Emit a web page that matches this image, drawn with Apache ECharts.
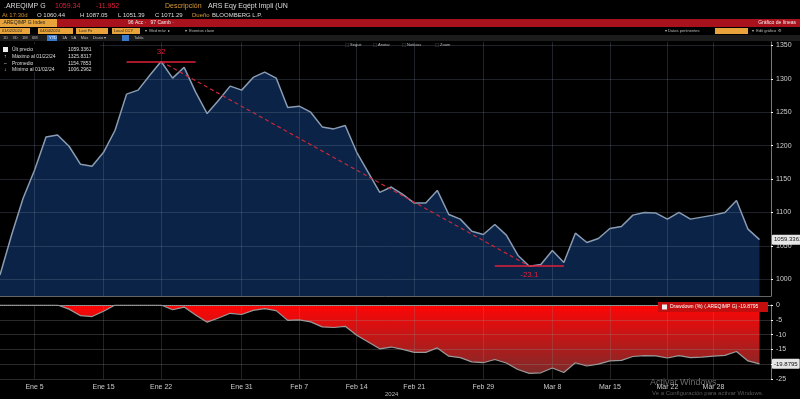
<!DOCTYPE html>
<html>
<head>
<meta charset="utf-8">
<script src="https://cdn.jsdelivr.net/npm/echarts@6/dist/echarts.min.js"></script>
<style>
  html, body { margin: 0; padding: 0; background: #000; }
  #chart { width: 800px; height: 399px; }
</style>
</head>
<body>
<div id="chart"></div>
<script>
// sesiones (dias habiles), la ultima queda vacia como margen a la derecha
var fechas = ['Ene 2','Ene 3','Ene 4','Ene 5','Ene 8','Ene 9','Ene 10','Ene 11','Ene 12',
  'Ene 15','Ene 16','Ene 17','Ene 18','Ene 19','Ene 22','Ene 23','Ene 24','Ene 25','Ene 26',
  'Ene 29','Ene 30','Ene 31','Feb 1','Feb 2','Feb 5','Feb 6','Feb 7','Feb 8','Feb 9',
  'Feb 12','Feb 13','Feb 14','Feb 15','Feb 16','Feb 19','Feb 20','Feb 21','Feb 22','Feb 23',
  'Feb 26','Feb 27','Feb 28','Feb 29','Mar 1','Mar 4','Mar 5','Mar 6','Mar 7','Mar 8',
  'Mar 11','Mar 12','Mar 13','Mar 14','Mar 15','Mar 18','Mar 19','Mar 20','Mar 21','Mar 22',
  'Mar 25','Mar 26','Mar 27','Mar 28','Mar 29','Abr 1','Abr 2','Abr 3','Abr 4'];
var etiquetasX = ['Ene 5','Ene 15','Ene 22','Ene 31','Feb 7','Feb 14','Feb 21','Feb 29','Mar 8','Mar 15','Mar 22','Mar 28'];

// precio .AREQIMP G
var precio = [1006.30, 1066, 1121, 1163, 1213, 1216, 1199, 1172, 1169, 1190, 1223, 1277, 1283, 1305,
  1325.83, 1301, 1317, 1280, 1248, 1268, 1289, 1283, 1302, 1310, 1301, 1257, 1259, 1250, 1228, 1225,
  1230, 1190, 1160, 1130, 1138, 1127, 1114, 1114, 1133, 1097, 1090, 1072, 1067, 1082, 1066, 1036,
  1019.6, 1022, 1043, 1025, 1069, 1055, 1061, 1076, 1079, 1096, 1100, 1099, 1090, 1100, 1090, 1093,
  1096, 1100, 1118, 1075, 1059.34];

// drawdown (%)
var drawdown = [0, 0, 0, 0, 0, 0, -1.4, -3.6, -3.9, -2.1, 0, 0, 0, 0, 0, -1.6, -0.7, -3.4, -5.8, -4.4,
  -2.8, -3.2, -1.8, -1.2, -1.9, -5.2, -5.0, -5.7, -7.4, -7.6, -7.2, -10.2, -12.5, -14.8, -14.2, -15.0,
  -16.0, -16.0, -14.5, -17.3, -17.8, -19.2, -19.5, -18.4, -19.6, -21.8, -23.1, -22.9, -21.3, -22.8,
  -19.5, -20.6, -20.0, -18.9, -18.7, -17.4, -17.1, -17.2, -17.9, -17.1, -17.8, -17.6, -17.3, -17.0,
  -15.7, -18.9, -19.88];

var ticksPrecio = [1000, 1050, 1100, 1150, 1200, 1250, 1300, 1350];
var ultimo = 1059.3361;
var ultimoDD = -19.8795;
var maximo = 1325.83, idxMax = 14;
var minimo = 1019.6, idxMin = 46;
var variacionSubida = '32', variacionBajada = '-23.1';

var myChart = echarts.init(document.getElementById('chart'));
var fuente = 'Liberation Sans, Arial, sans-serif';
var rojo = '#e0203a';
var naranja = '#e8a33a';
var invisible = 'rgba(0,0,0,0)';

function esEtiqueta(idx, val) {
  return etiquetasX.indexOf(fechas[idx]) >= 0;
}

var gridLineas = ticksPrecio.map(function (v) {
  return { yAxis: v, lineStyle: { color: 'rgba(125,140,165,0.25)', width: 1, type: 'solid' }, label: { show: false } };
});

function txt(x, y, s, color, size, extra) {
  var o = { type: 'text', x: x, y: y, z: 100, silent: true,
    style: { text: s, fill: color, font: (size || 6) + 'px ' + fuente, verticalAlign: 'middle' } };
  if (extra) { for (var k in extra) o.style[k] = extra[k]; }
  return o;
}
function caja(x, y, w, h, color) {
  return { type: 'rect', z: 99, silent: true, shape: { x: x, y: y, width: w, height: h }, style: { fill: color } };
}

var graficos = [
  // fila 1
  txt(4, 6, '.AREQIMP G', '#ddd', 7),
  txt(55, 6, '1059.34', rojo, 7),
  txt(96, 6, '-11.952', rojo, 7),
  txt(165, 6, 'Descripción', '#d89a3a', 7),
  txt(208, 6, 'ARS Eqy Eqépt Impli (UN', '#ddd', 7),
  // fila 2
  txt(2, 15, 'At 17:30d', '#c88a30', 6),
  txt(37, 15, 'O 1060.44', '#ddd', 6),
  txt(80, 15, 'H 1087.05', '#ddd', 6),
  txt(118, 15, 'L 1051.39', '#ddd', 6),
  txt(155, 15, 'C 1071.29', '#ddd', 6),
  txt(192, 15, 'Dueño', '#d89a3a', 6),
  txt(212, 15, 'BLOOMBERG L.P.', '#ddd', 6),
  // banda roja
  caja(0, 19, 800, 8, '#a8121d'),
  caja(0, 19, 57, 8, naranja),
  txt(2, 23, '.AREQIMP G Index', '#222', 5),
  txt(128, 23, '96 Acc ·   97 Camb ·', '#eee', 5),
  txt(796, 23, 'Gráfico de líneas', '#eee', 5, { align: 'right' }),
  // fila 4
  caja(0, 28, 30, 6, naranja), txt(2, 31, '01/02/2024', '#222', 4),
  caja(38, 28, 35, 6, naranja), txt(40, 31, '04/04/2024', '#222', 4),
  caja(76, 28, 32, 6, naranja), txt(79, 31, 'Last Px', '#222', 4),
  caja(112, 28, 28, 6, naranja), txt(114, 31, 'Local CCY', '#222', 4),
  txt(145, 31, '▾  Med móv  ▸', '#bbb', 4),
  txt(185, 31, '▾  Eventos clave', '#bbb', 4),
  txt(665, 31, '▾ Datos pertinentes', '#bbb', 4),
  caja(715, 28, 33, 6, naranja),
  txt(752, 31, '▾  Edit gráfico  ⚙', '#bbb', 4),
  // fila 5
  caja(0, 35, 800, 6, '#1c1c1c'),
  txt(3, 38, '1D    3D    1M    6M', '#bbb', 4),
  caja(47, 35, 10, 6, '#3a78c8'), txt(49, 38, 'YTD', '#fff', 4),
  txt(62, 38, '1A    5A    Máx    Diario ▾', '#bbb', 4),
  caja(122, 35, 7, 6, '#3a78c8'),
  txt(134, 38, 'Tabla', '#bbb', 4),
  // botones
  txt(345, 45, '⬚ Seguir', '#bbb', 4),
  txt(373, 45, '⬚ Anotar', '#bbb', 4),
  txt(402, 45, '⬚ Noticias', '#bbb', 4),
  txt(435, 45, '⬚ Zoom', '#bbb', 4),
  // leyenda principal
  caja(0, 44, 100, 28, '#000'),
  caja(3, 47, 5, 5, '#eee'),
  txt(12, 49.5, 'Últ precio', '#ddd', 5), txt(68, 49.5, '1059.3361', '#ddd', 5),
  txt(4, 56.5, '↑', '#ddd', 5), txt(12, 56.5, 'Máximo al 01/22/24', '#ddd', 5), txt(68, 56.5, '1325.8317', '#ddd', 5),
  txt(4, 63.5, '–', '#ddd', 5), txt(12, 63.5, 'Promedio', '#ddd', 5), txt(68, 63.5, '1154.7853', '#ddd', 5),
  txt(4, 70, '↓', '#ddd', 5), txt(12, 70, 'Mínimo al 01/02/24', '#ddd', 5), txt(68, 70, '1006.2962', '#ddd', 5),
  // leyenda drawdown
  caja(658, 302, 110, 10, '#c40d0d'),
  caja(662, 304.5, 5, 5, '#eee'),
  txt(670, 307, 'Drawdown (%) (.AREQIMP G) -19.8795', '#fff', 5),
  // pie
  txt(385, 394, '2024', '#bbb', 6),
  txt(650, 383, 'Activar Windows', 'rgba(190,190,190,0.55)', 9),
  txt(652, 393, 'Ve a Configuración para activar Windows.', 'rgba(190,190,190,0.45)', 6)
];

function etiquetaUltimo(valor, texto) {
  return { yAxis: valor, lineStyle: { color: invisible, width: 1 },
    label: { show: true, position: 'end', distance: 1, formatter: texto, color: '#111',
      backgroundColor: '#e6e6e6', borderRadius: 1, padding: [2, 2], fontSize: 6 } };
}

var option = {
  backgroundColor: '#000',
  animation: false,
  textStyle: { fontFamily: fuente },
  grid: [
    { left: 0, right: 29, top: 42, height: 254 },
    { left: 0, right: 29, top: 305, height: 74 }
  ],
  xAxis: [
    {
      type: 'category', gridIndex: 0, data: fechas, boundaryGap: false, z: 5,
      axisLine: { show: true, lineStyle: { color: '#666' } },
      axisTick: { show: false },
      axisLabel: { show: false },
      splitLine: { show: true, interval: esEtiqueta, lineStyle: { color: 'rgba(125,140,165,0.25)' } }
    },
    {
      type: 'category', gridIndex: 1, data: fechas, boundaryGap: false, z: 5,
      axisLine: { show: true, lineStyle: { color: '#999', type: 'dotted' } },
      axisTick: { show: false },
      axisLabel: { interval: esEtiqueta, color: '#ccc', fontSize: 7, margin: 5 },
      splitLine: { show: true, interval: esEtiqueta, lineStyle: { color: 'rgba(140,140,140,0.25)' } }
    }
  ],
  yAxis: [
    {
      type: 'value', gridIndex: 0, position: 'right', min: 975, max: 1355,
      axisLine: { show: true, lineStyle: { color: '#777' } },
      axisTick: { show: true, customValues: ticksPrecio, length: 2, lineStyle: { color: '#fff' } },
      axisLabel: { customValues: ticksPrecio, color: '#ccc', fontSize: 7, margin: 5,
        formatter: function (v) { return String(v); } },
      splitLine: { show: false }
    },
    {
      type: 'value', gridIndex: 1, position: 'right', min: -25, max: 0, interval: 5, z: 5,
      axisLine: { show: true, lineStyle: { color: '#777' } },
      axisTick: { show: true, length: 2, lineStyle: { color: '#fff' } },
      axisLabel: { color: '#ccc', fontSize: 7, margin: 5,
        formatter: function (v) { return String(v); } },
      splitLine: { show: true, lineStyle: { color: 'rgba(150,150,150,0.28)' } }
    }
  ],
  series: [
    {
      name: 'Últ precio', type: 'line', xAxisIndex: 0, yAxisIndex: 0,
      data: precio, showSymbol: false, smooth: false,
      lineStyle: { color: '#8a9cb3', width: 1.5 },
      areaStyle: { color: '#0b2346', opacity: 1, origin: 'start' },
      markLine: {
        silent: true, symbol: ['none', 'none'], animation: false, z: 10,
        data: gridLineas.concat([
          [
            { coord: [idxMax - 3, maximo], lineStyle: { color: rojo, width: 1.5, type: 'solid' },
              label: { show: true, position: 'insideMiddleTop', formatter: variacionSubida, color: rojo, fontSize: 8, distance: 6 } },
            { coord: [idxMax + 3, maximo] }
          ],
          [
            { coord: [idxMin - 3, minimo], lineStyle: { color: rojo, width: 1.5, type: 'solid' },
              label: { show: true, position: 'insideMiddleBottom', formatter: variacionBajada, color: rojo, fontSize: 8, distance: 5 } },
            { coord: [idxMin + 3, minimo] }
          ],
          [
            { coord: [idxMax, maximo], lineStyle: { color: '#c8283c', width: 1.2, type: [4, 3] }, label: { show: false } },
            { coord: [idxMin, minimo] }
          ],
          etiquetaUltimo(ultimo, '1059.3361')
        ])
      }
    },
    {
      name: 'Drawdown', type: 'line', xAxisIndex: 1, yAxisIndex: 1,
      data: drawdown, showSymbol: false,
      lineStyle: { color: '#9a9a9a', width: 1.2 },
      areaStyle: {
        opacity: 1,
        color: new echarts.graphic.LinearGradient(0, 0, 0, 1, [
          { offset: 0, color: '#ff0505' },
          { offset: 1, color: '#7e2a2a' }
        ])
      },
      markLine: {
        silent: true, symbol: ['none', 'none'], animation: false, z: 10,
        data: [ etiquetaUltimo(ultimoDD, '-19.8795') ]
      }
    }
  ],
  graphic: graficos
};

myChart.setOption(option);
window.addEventListener('resize', function () {
  myChart.resize();
});
</script>
</body>
</html>
